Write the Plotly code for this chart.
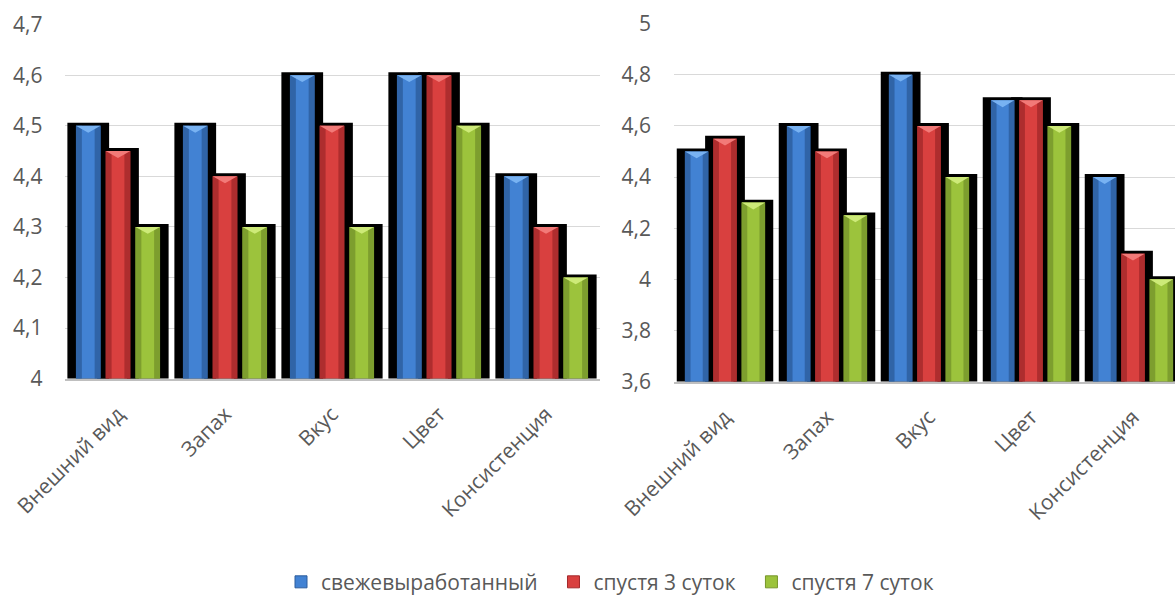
import plotly.graph_objects as go

categories = ["Внешний вид", "Запах", "Вкус", "Цвет", "Консистенция"]
series_names = ["свежевыработанный", "спустя 3 суток", "спустя 7 суток"]

left_fresh = [4.5, 4.5, 4.6, 4.6, 4.4]
left_day3 = [4.45, 4.4, 4.5, 4.6, 4.3]
left_day7 = [4.3, 4.3, 4.3, 4.5, 4.2]

right_fresh = [4.5, 4.6, 4.8, 4.7, 4.4]
right_day3 = [4.55, 4.5, 4.6, 4.7, 4.1]
right_day7 = [4.3, 4.25, 4.4, 4.6, 4.0]

left_yticks = [4.0, 4.1, 4.2, 4.3, 4.4, 4.5, 4.6, 4.7]
right_yticks = [3.6, 3.8, 4.0, 4.2, 4.4, 4.6, 4.8, 5.0]

# style
edge_colors = ["#2c5c9c", "#a3282b", "#76952a"]
mid_colors = ["#4282d3", "#d9403f", "#9cc33c"]
top_colors = ["#78b2f2", "#f27a78", "#cdea78"]
FONT = "Open Sans"
GRAY = "#595959"
W, H = 1175, 603

SPACING = 0.278
BAR_W = 0.23
SHADOW_W = 0.39
LEGEND_PAD = "\u00a0" * 2

fig = go.Figure()

panels = [
    dict(vals=[left_fresh, left_day3, left_day7], xa="x", ya="y",
         yr=(4.0, 4.7), ydom=(1 - 385 / H, 1 - 25 / H)),
    dict(vals=[right_fresh, right_day3, right_day7], xa="x2", ya="y2",
         yr=(3.6, 5.0), ydom=(1 - 388 / H, 1 - 24 / H)),
]

for p_i, p in enumerate(panels):
    y0, y1 = p["yr"]
    px_h = (p["ydom"][1] - p["ydom"][0]) * H
    unit = (y1 - y0) / px_h  # data units per pixel
    base = y0 - 3 * unit
    # shadows
    for k, vals in enumerate(p["vals"]):
        xs = [i + (k - 1) * SPACING for i in range(len(categories))]
        fig.add_trace(go.Bar(
            x=xs, y=[v + 3 * unit - base for v in vals], base=base,
            width=SHADOW_W, marker=dict(color="black", line=dict(width=0)),
            xaxis=p["xa"], yaxis=p["ya"], showlegend=False, hoverinfo="skip",
            cliponaxis=False,
        ))
    # bars
    for k, vals in enumerate(p["vals"]):
        xs = [i + (k - 1) * SPACING for i in range(len(categories))]
        fig.add_trace(go.Bar(
            x=xs, y=vals, width=BAR_W, name=series_names[k],
            marker=dict(color=mid_colors[k], line=dict(width=0)),
            xaxis=p["xa"], yaxis=p["ya"], showlegend=False,
        ))
        # darker edges: two thin bars at the sides
        for side in (-1, 1):
            fig.add_trace(go.Bar(
                x=[x + side * BAR_W * 0.38 for x in xs], y=vals, width=BAR_W * 0.24,
                marker=dict(color=edge_colors[k], line=dict(width=0), opacity=0.8),
                xaxis=p["xa"], yaxis=p["ya"], showlegend=False, hoverinfo="skip",
            ))
        # bevel triangle on top
        tx, ty = [], []
        h = 7 * unit
        for x, v in zip(xs, vals):
            tx += [x - BAR_W / 2, x + BAR_W / 2, x, x - BAR_W / 2, None]
            ty += [v, v, v - h, v, None]
        fig.add_trace(go.Scatter(
            x=tx, y=ty, mode="lines", fill="toself", fillcolor=top_colors[k],
            line=dict(width=0, color=top_colors[k]),
            xaxis=p["xa"], yaxis=p["ya"], showlegend=False, hoverinfo="skip",
        ))

# legend entries
for k in range(3):
    fig.add_trace(go.Bar(
        x=[None], y=[None], name=series_names[k] + (LEGEND_PAD if k < 2 else ""),
        marker=dict(color=mid_colors[k], line=dict(color=edge_colors[k], width=1)),
        xaxis="x", yaxis="y", showlegend=True,
    ))

ytick_font = dict(family=FONT, size=21, color=GRAY)
xtick_font = dict(family=FONT, size=21, color=GRAY)

fig.update_layout(
    width=W, height=H,
    margin=dict(l=0, r=0, t=0, b=0),
    paper_bgcolor="white", plot_bgcolor="white",
    barmode="overlay",
    separators=", ",
    font=dict(family=FONT, color=GRAY),
    showlegend=True,
    legend=dict(orientation="h", x=281 / W, xanchor="left", y=1 - 592 / H, yanchor="middle",
                font=dict(family=FONT, size=21, color=GRAY), itemwidth=30,
                bgcolor="rgba(0,0,0,0)"),
    xaxis=dict(domain=[64.5 / W, 599.5 / W], range=[-0.5, 4.5],
               tickvals=list(range(len(categories))), ticktext=categories,
               tickangle=-45, tickfont=xtick_font, showgrid=False, zeroline=False,
               showline=True, linecolor="#bfbfbf", linewidth=2, ticks="",
               ticklabelstandoff=13,
               anchor="y", automargin=False, fixedrange=True),
    yaxis=dict(domain=[1 - 385 / H, 1 - 25 / H], range=[4.0, 4.7],
               tickvals=left_yticks, tickfont=ytick_font, showgrid=True,
               gridcolor="#d9d9d9", gridwidth=1, zeroline=False, showline=False,
               ticks="", ticklabelstandoff=21, anchor="x", automargin=False),
    xaxis2=dict(domain=[674 / W, 1.0], range=[-0.5, -0.5 + 501 / 102],
                tickvals=list(range(len(categories))), ticktext=categories,
                tickangle=-45, tickfont=xtick_font, showgrid=False, zeroline=False,
                showline=True, linecolor="#bfbfbf", linewidth=2, ticks="",
                ticklabelstandoff=13,
                anchor="y2", automargin=False),
    yaxis2=dict(domain=[1 - 388 / H, 1 - 24 / H], range=[3.6, 5.0],
                tickvals=right_yticks, tickfont=ytick_font, showgrid=True,
                gridcolor="#d9d9d9", gridwidth=1, zeroline=False, showline=False,
                ticks="", ticklabelstandoff=22, anchor="x2", automargin=False),
)

fig.write_html("out.html")
